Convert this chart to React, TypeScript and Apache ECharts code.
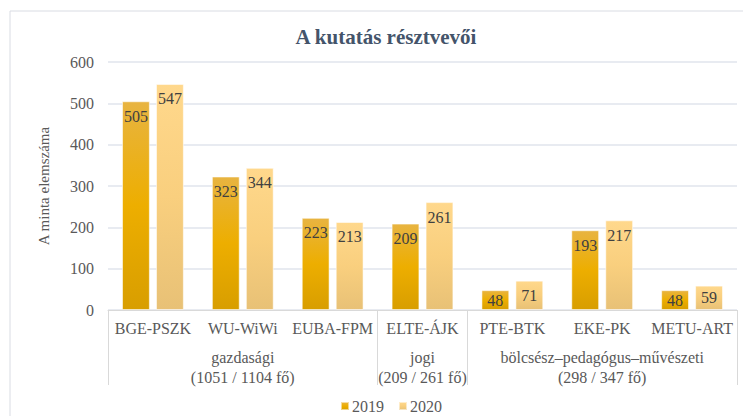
import React, { useEffect, useRef } from "react";
import * as echarts from "echarts";

const categories = ["BGE-PSZK", "WU-WiWi", "EUBA-FPM", "ELTE-ÁJK", "PTE-BTK", "EKE-PK", "METU-ART"];
const values2019 = [505, 323, 223, 209, 48, 193, 48];
const values2020 = [547, 344, 213, 261, 71, 217, 59];
const seriesNames = ["2019", "2020"];
const groupNames = ["gazdasági\n(1051 / 1104 fő)", "jogi\n(209 / 261 fő)", "bölcsész–pedagógus–művészeti\n(298 / 347 fő)"];
const groupSizes = [3, 1, 3];
const yTicks = { min: 0, max: 600, interval: 100 };

const FONT = "'Liberation Serif', 'Times New Roman', serif";

export default function App() {
  const ref = useRef<HTMLDivElement>(null);
  useEffect(() => {
    if (!ref.current) return;
    const chart = echarts.init(ref.current, null, { renderer: "svg" });

    // group boundaries (start index of each group) and centre index labels
    const starts: number[] = [];
    const centreLabel: Record<number, string> = {};
    let acc = 0;
    groupSizes.forEach((s, gi) => {
      starts.push(acc);
      centreLabel[acc + Math.floor(s / 2)] = groupNames[gi];
      acc += s;
    });

    const grad2019 = new echarts.graphic.LinearGradient(0, 0, 0, 1, [
      { offset: 0, color: "#E8B441" },
      { offset: 0.5, color: "#EDAE00" },
      { offset: 1, color: "#D89E00" },
    ]);
    const grad2020 = new echarts.graphic.LinearGradient(0, 0, 0, 1, [
      { offset: 0, color: "#FFD88C" },
      { offset: 0.5, color: "#F9CF7E" },
      { offset: 1, color: "#E8C176" },
    ]);

    const makeData = (vals: number[]) =>
      vals.map((v) => ({
        value: v,
        label: { position: v < 60 ? "inside" : "insideTop" },
      }));

    const labelStyle = {
      show: true,
      color: "#404040",
      fontFamily: FONT,
      fontSize: 16,
      distance: 7,
    };

    chart.setOption({
      animation: false,
      backgroundColor: "#ffffff",
      title: {
        text: "A kutatás résztvevői",
        left: 381,
        top: 21,
        textAlign: "center",
        textStyle: { fontFamily: FONT, fontSize: 21, fontWeight: "bold", color: "#44546A" },
      },
      legend: {
        data: seriesNames,
        left: 335,
        top: 393,
        itemWidth: 8,
        itemHeight: 8,
        itemGap: 14,
        icon: "rect",
        textStyle: { fontFamily: FONT, fontSize: 16, color: "#595959", padding: [0, 0, 0, -2] },
      },
      graphic: [
        {
          type: "rect",
          shape: { x: 10, y: 11, width: 900, height: 600 },
          style: { fill: "none", stroke: "#D9DCE3", lineWidth: 1 },
          silent: true,
          z: -1,
        },
      ],
      grid: { left: 108, right: 6, top: 62, bottom: 106, outerBoundsMode: "none", containLabel: false },
      xAxis: [
        {
          type: "category",
          data: categories,
          axisLine: { show: true, lineStyle: { color: "#D9D9D9", width: 1 } },
          axisTick: {
            show: true,
            length: 75,
            interval: (i: number) => starts.includes(i),
            lineStyle: { color: "#D9D9D9", width: 1 },
          },
          axisLabel: { interval: 0, margin: 10, fontFamily: FONT, fontSize: 16, color: "#595959" },
        },
        {
          type: "category",
          data: categories,
          position: "bottom",
          axisLine: { show: false },
          axisTick: { show: false },
          splitLine: { show: false },
          axisLabel: {
            interval: (i: number) => centreLabel[i] !== undefined,
            formatter: (_v: string, i: number) => centreLabel[i] ?? "",
            margin: 37,
            fontFamily: FONT,
            fontSize: 16,
            lineHeight: 20,
            color: "#595959",
          },
        },
      ],
      yAxis: {
        type: "value",
        min: yTicks.min,
        max: yTicks.max,
        interval: yTicks.interval,
        name: "A minta elemszáma",
        nameLocation: "middle",
        nameRotate: 90,
        nameGap: 57,
        nameTextStyle: { fontFamily: FONT, fontSize: 15, color: "#595959" },
        axisLine: { show: false },
        axisTick: { show: false },
        axisLabel: { margin: 14, fontFamily: FONT, fontSize: 16, color: "#595959" },
        splitLine: { lineStyle: { color: "#E1E5EC", width: 1.5 } },
      },
      series: [
        {
          name: seriesNames[0],
          type: "bar",
          xAxisIndex: 0,
          data: makeData(values2019),
          barWidth: "31%",
          barGap: "22%",
          itemStyle: { color: grad2019, borderColor: "rgba(255,255,255,0.55)", borderWidth: 1 },
          label: labelStyle,
        },
        {
          name: seriesNames[1],
          type: "bar",
          xAxisIndex: 0,
          data: makeData(values2020),
          barWidth: "31%",
          barGap: "22%",
          itemStyle: { color: grad2020, borderColor: "rgba(255,255,255,0.55)", borderWidth: 1 },
          label: labelStyle,
        },
      ],
    });
    return () => chart.dispose();
  }, []);
  return (
    <div
      ref={ref}
      style={{ position: "absolute", left: 0, top: 0, width: 743, height: 416, background: "#fff" }}
    />
  );
}
